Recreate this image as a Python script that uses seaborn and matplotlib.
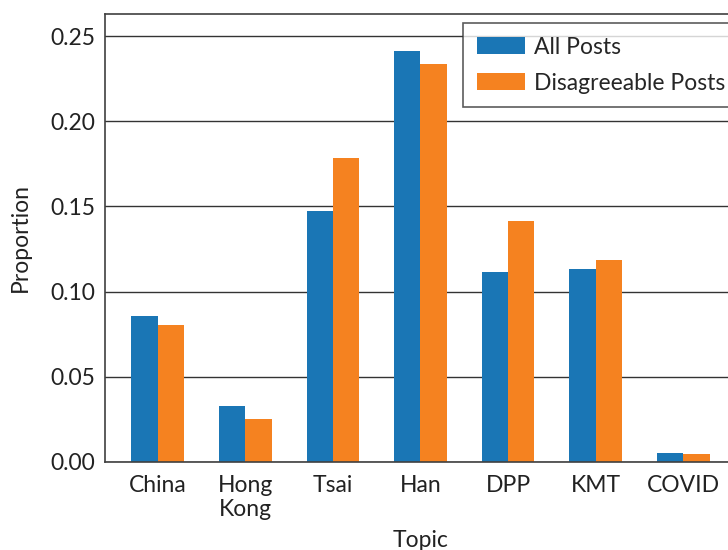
import pandas as pd
import matplotlib
matplotlib.use('Agg')
import matplotlib.pyplot as plt
import seaborn as sns

# данные
topics = ['China', 'Hong\nKong', 'Tsai', 'Han', 'DPP', 'KMT', 'COVID']
all_posts = [0.0857, 0.0330, 0.1473, 0.2412, 0.1115, 0.1133, 0.0053]
disagree_posts = [0.0804, 0.0252, 0.1784, 0.2336, 0.1414, 0.1185, 0.0047]
series = ['All Posts', 'Disagreeable Posts']
colors = ['#1a76b5', '#f58220']

df = pd.DataFrame({
    'Topic': topics * 2,
    'Proportion': all_posts + disagree_posts,
    'Series': [series[0]] * len(topics) + [series[1]] * len(topics),
})

sns.set_style('white')
plt.rcParams['font.family'] = ['Lato', 'DejaVu Sans']
fs = 16.5

fig = plt.figure(figsize=(7.28, 5.5), dpi=100)
# оси специально выходят за правый край картинки, как в оригинале
ax = fig.add_axes([105 / 728, 88 / 550, 631 / 728, 448 / 550])

sns.barplot(data=df, x='Topic', y='Proportion', hue='Series', palette=colors,
            width=0.6, saturation=1, linewidth=0, ax=ax)

ax.set_xlim(-0.6, 6.6)
ax.set_ylim(0, 0.263)
ax.set_yticks([0, 0.05, 0.10, 0.15, 0.20, 0.25])
ax.set_yticklabels(['0.00', '0.05', '0.10', '0.15', '0.20', '0.25'])
ax.yaxis.grid(True, color='#333333', linewidth=1)
ax.set_axisbelow(True)
ax.tick_params(axis='both', length=0, labelsize=fs, colors='#222222')
ax.tick_params(axis='y', pad=7)
ax.tick_params(axis='x', pad=9)
for s in ['left', 'top', 'bottom']:
    ax.spines[s].set_color('#404040')
    ax.spines[s].set_linewidth(1.2)
ax.spines['right'].set_visible(False)

ax.set_xlabel('Topic', fontsize=fs, color='#222222', labelpad=7)
ax.set_ylabel('Proportion', fontsize=fs, color='#222222', labelpad=14)

leg = ax.legend(loc='upper left', bbox_to_anchor=(0.567, 0.98), fontsize=fs,
                frameon=True, fancybox=False, edgecolor='#333333',
                handlelength=2.1, handleheight=0.75, handletextpad=0.4,
                labelspacing=0.65, borderpad=0.6, borderaxespad=0)
leg.get_frame().set_linewidth(1.2)

fig.savefig('out.png', dpi=100)
